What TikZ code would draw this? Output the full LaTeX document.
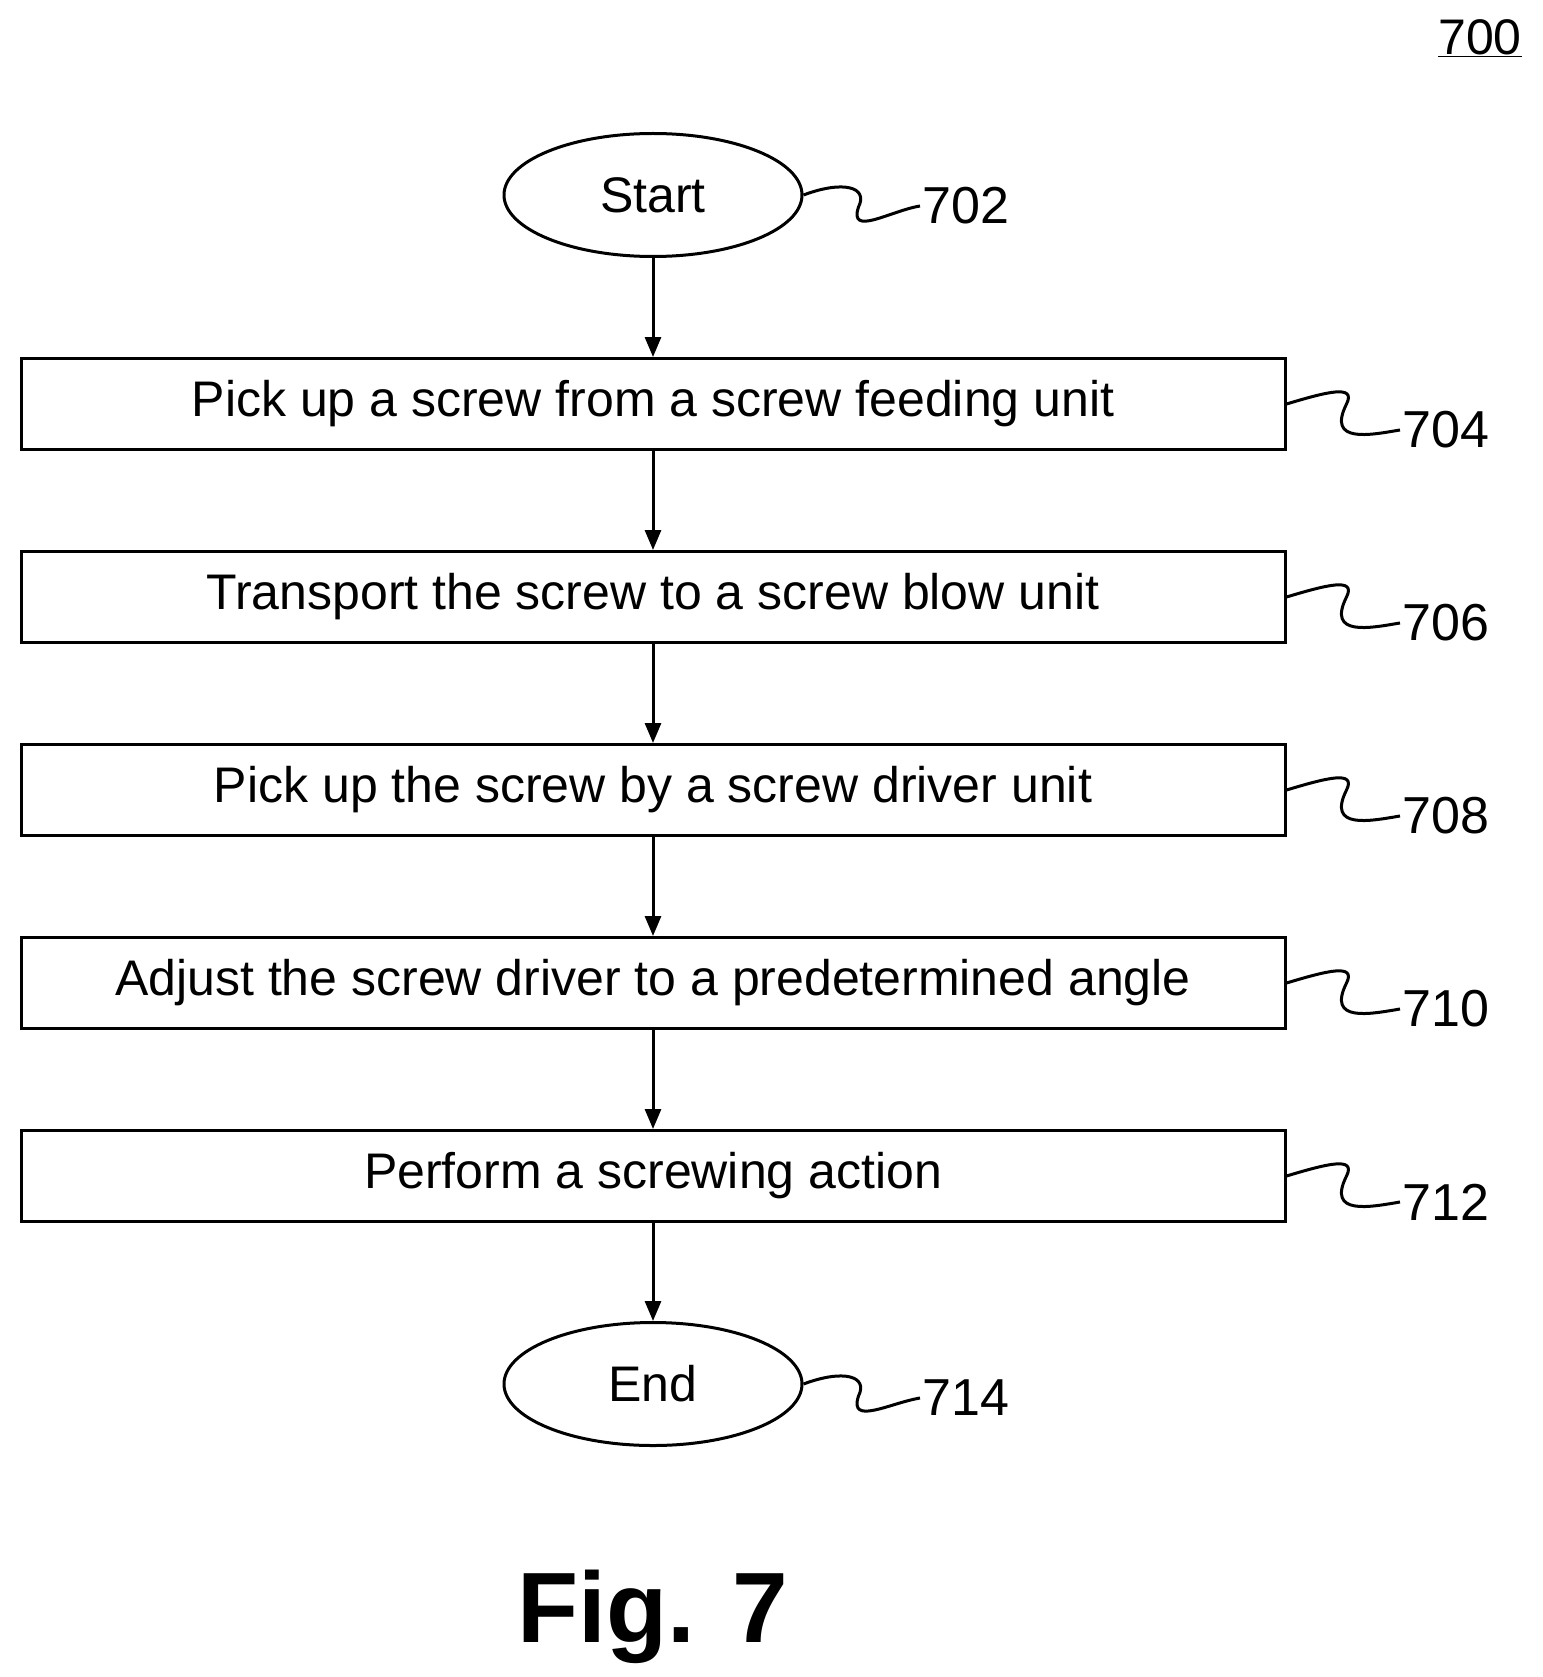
\documentclass[tikz,border=0pt]{standalone}
\usepackage{fontspec}
\setmainfont{Liberation Sans}
\usetikzlibrary{shapes.geometric,arrows.meta}
\begin{document}
\begin{tikzpicture}[x=1pt,y=-1pt,
  box/.style={draw,line width=3pt,minimum width=1264pt,minimum height=91pt,font=\fontsize{50}{56}\selectfont},
  term/.style={draw,ellipse,line width=3pt,minimum width=298pt,minimum height=123pt,font=\fontsize{50}{56}\selectfont},
  lbl/.style={font=\fontsize{52}{58}\selectfont,anchor=west,inner sep=2pt},
  arr/.style={line width=3pt,-{Triangle[length=20pt,width=16pt]}},
  lead/.style={line width=3pt}]
\useasboundingbox (0,0) rectangle (1542,1677);
\node[font=\fontsize{50}{56}\selectfont] (n700) at (1480,38) {\underline{700}};
\node[term] (s) at (653,195) {Start};
\node[box] (b1) at (653,404) {Pick up a screw from a screw feeding unit};
\node[box] (b2) at (653,597) {Transport the screw to a screw blow unit};
\node[box] (b3) at (653,790) {Pick up the screw by a screw driver unit};
\node[box] (b4) at (653,983) {Adjust the screw driver to a predetermined angle};
\node[box] (b5) at (653,1176) {Perform a screwing action};
\node[term] (e) at (653,1384) {End};
\draw[arr] (s) -- (b1);
\draw[arr] (b1) -- (b2);
\draw[arr] (b2) -- (b3);
\draw[arr] (b3) -- (b4);
\draw[arr] (b4) -- (b5);
\draw[arr] (b5) -- (e);
\node[lbl] (l702) at (920,206) {702};
\node[lbl] (l704) at (1400,430) {704};
\node[lbl] (l706) at (1400,623) {706};
\node[lbl] (l708) at (1400,816) {708};
\node[lbl] (l710) at (1400,1009) {710};
\node[lbl] (l712) at (1400,1202) {712};
\node[lbl] (l714) at (920,1398) {714};
\draw[lead] (s.east) .. controls +(40,-15) and +(10,-20) .. +(55,12) .. controls +(-10,30) and +(-30,5) .. (l702.west);
\draw[lead] (e.east) .. controls +(40,-15) and +(10,-20) .. +(55,12) .. controls +(-10,30) and +(-30,5) .. (l714.west);
\foreach \b/\l in {b1/l704,b2/l706,b3/l708,b4/l710,b5/l712}
  \draw[lead] (\b.east) .. controls +(40,-12) and +(10,-20) .. +(60,0) .. controls +(-20,40) and +(-30,5) .. (\l.west);
\node[font=\bfseries\fontsize{100}{110}\selectfont] (fig) at (653,1617) {Fig. 7};
\end{tikzpicture}
\end{document}
